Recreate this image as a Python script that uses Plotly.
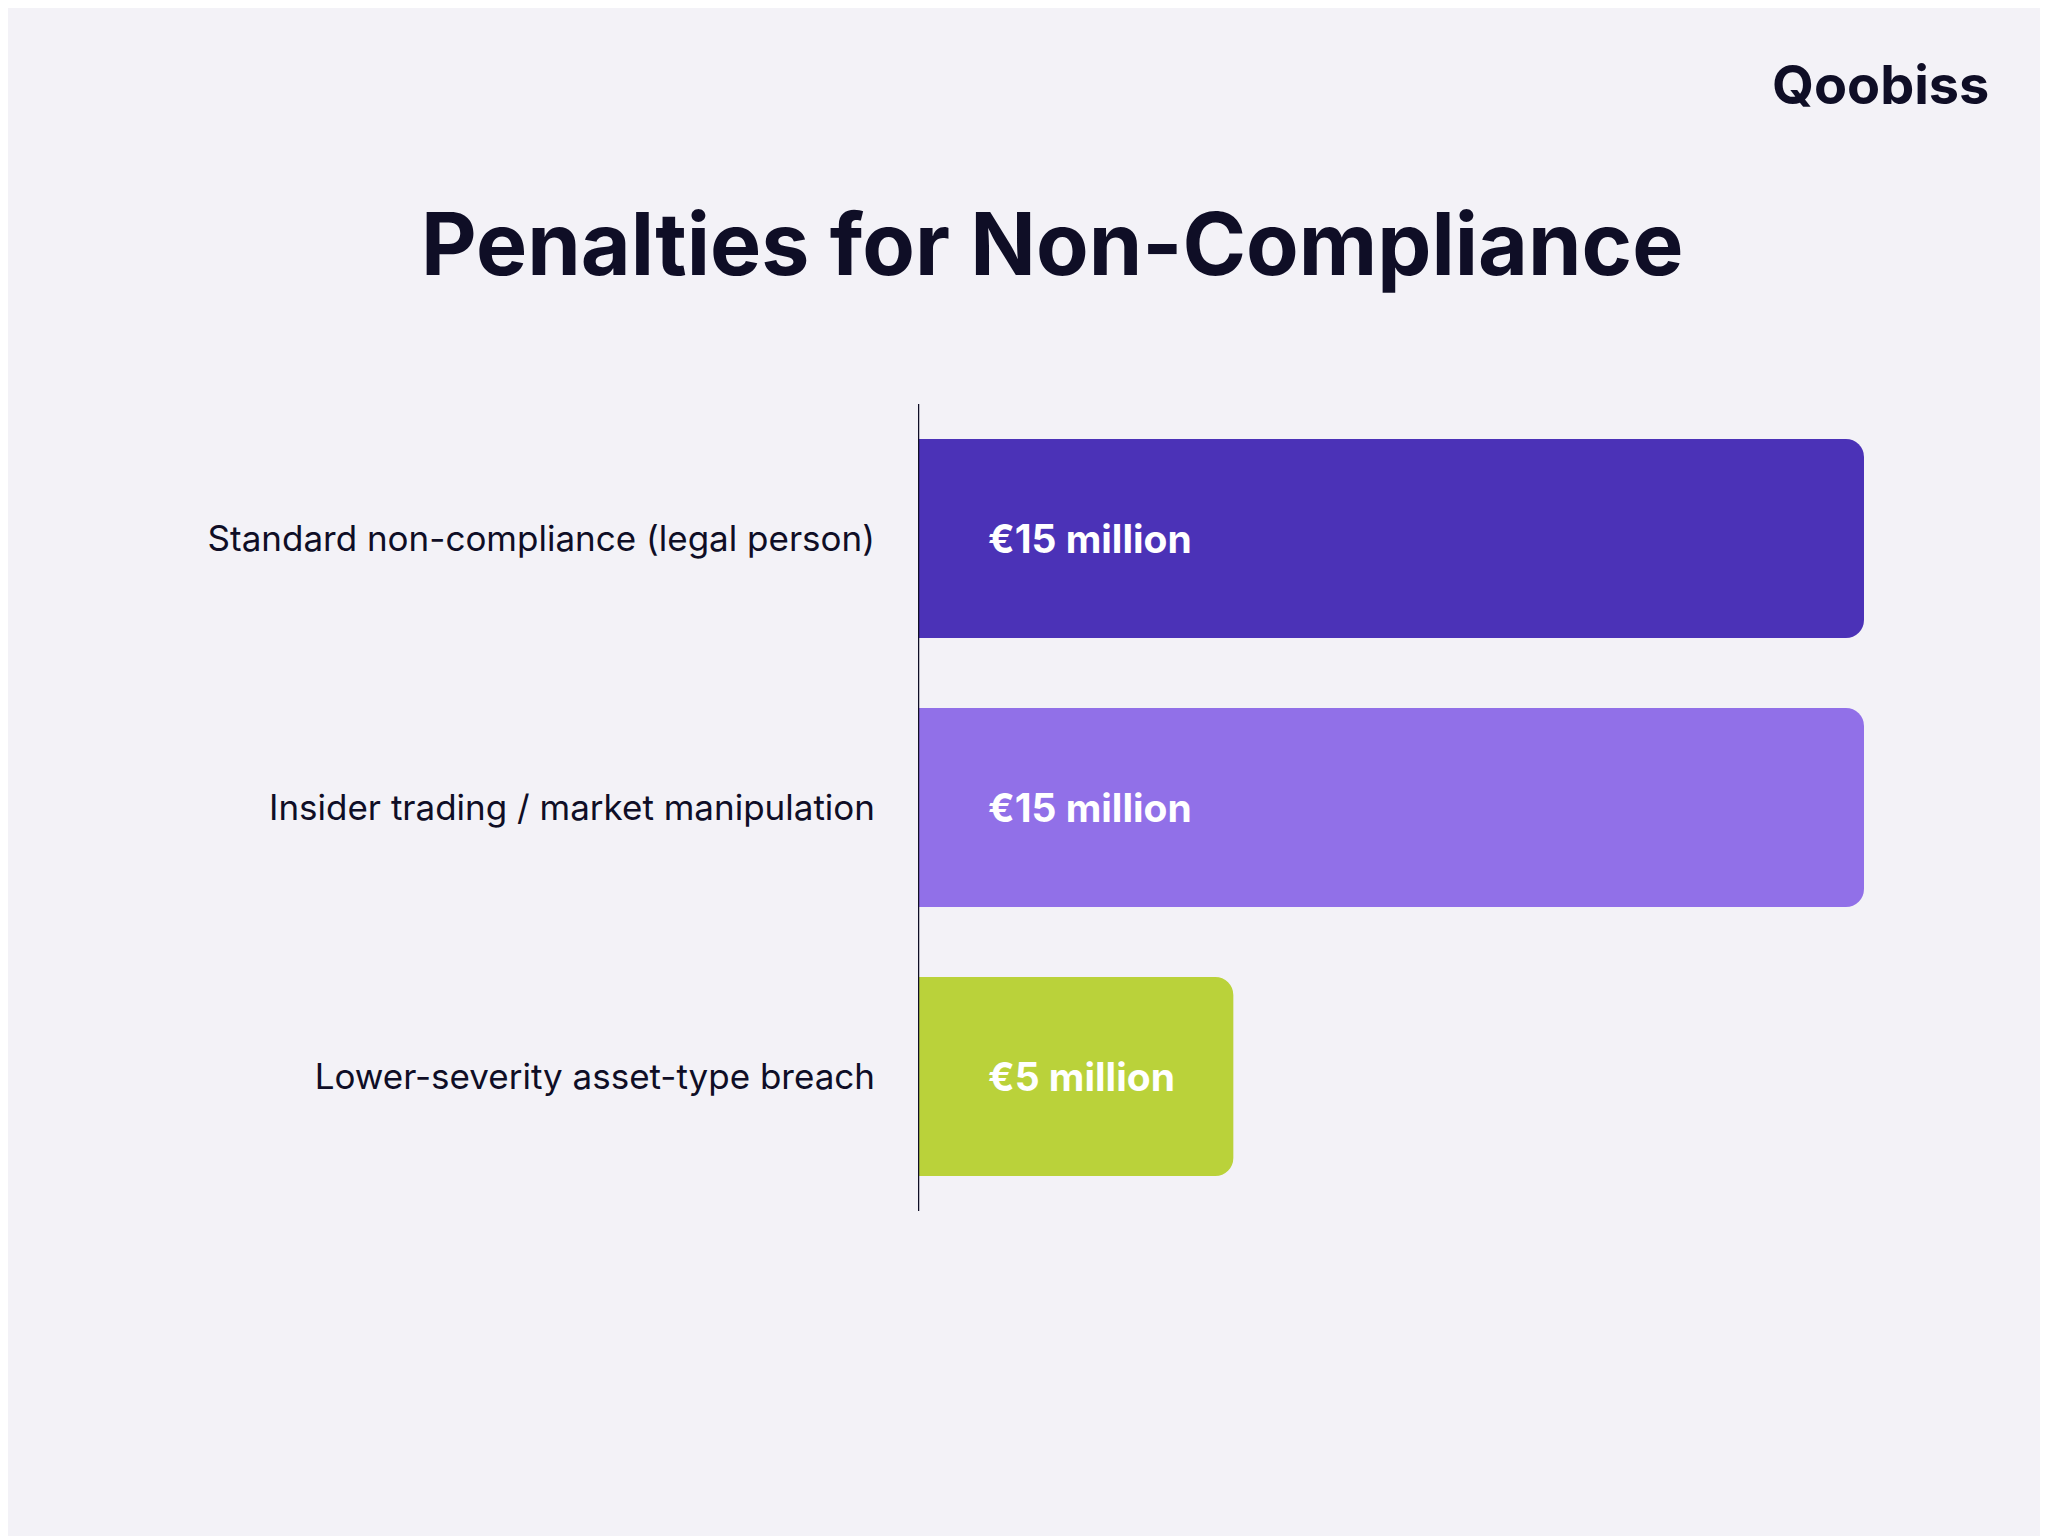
import plotly.graph_objects as go

categories = [
    "Standard non-compliance (legal person)",
    "Insider trading / market manipulation",
    "Lower-severity asset-type breach",
]
values = [15, 15, 5]
labels = ["€15 million", "€15 million", "€5 million"]
colors = ["#4b32b7", "#9170e8", "#bad23a"]

INK = "#0f0e26"
BG = "#f3f2f7"
FONT = "Inter"

fig = go.Figure()
fig.add_bar(
    x=values,
    y=categories,
    orientation="h",
    width=0.74,
    marker=dict(color=colors, line=dict(width=0), cornerradius=18),
    hoverinfo="skip",
)

for cat, lab in zip(categories, labels):
    fig.add_annotation(
        x=0, y=cat, text=lab, showarrow=False,
        xanchor="left", xshift=68,
        font=dict(family=FONT, size=39, color="white", weight="bold"),
    )

fig.add_annotation(
    xref="paper", yref="paper", x=0.142, y=1, yshift=160,
    text="Penalties for Non-Compliance",
    showarrow=False, xanchor="center", yanchor="middle",
    font=dict(family=FONT, size=86, color=INK, weight="bold"),
)
# brand mark
fig.add_annotation(
    xref="paper", yref="paper", x=1, y=1, xshift=127, yshift=320,
    text="Qoobiss", showarrow=False, xanchor="right", yanchor="middle",
    font=dict(family=FONT, size=54, color=INK, weight="bold"),
)

fig.update_layout(
    width=2048,
    height=1536,
    paper_bgcolor=BG,
    plot_bgcolor=BG,
    showlegend=False,
    margin=dict(l=910, r=192, t=396, b=333),
    xaxis=dict(range=[0, 15], visible=False, fixedrange=True),
    yaxis=dict(
        autorange="reversed",
        showgrid=False,
        zeroline=False,
        showline=False,
        ticks="",
        ticklabelstandoff=42,
        tickfont=dict(family=FONT, size=35, color=INK),
    ),
    shapes=[
        dict(type="line", xref="x", yref="paper", x0=0, x1=0, y0=0, y1=1,
             line=dict(color=INK, width=2.5)),
    ],
)

fig.write_html("out.html")
